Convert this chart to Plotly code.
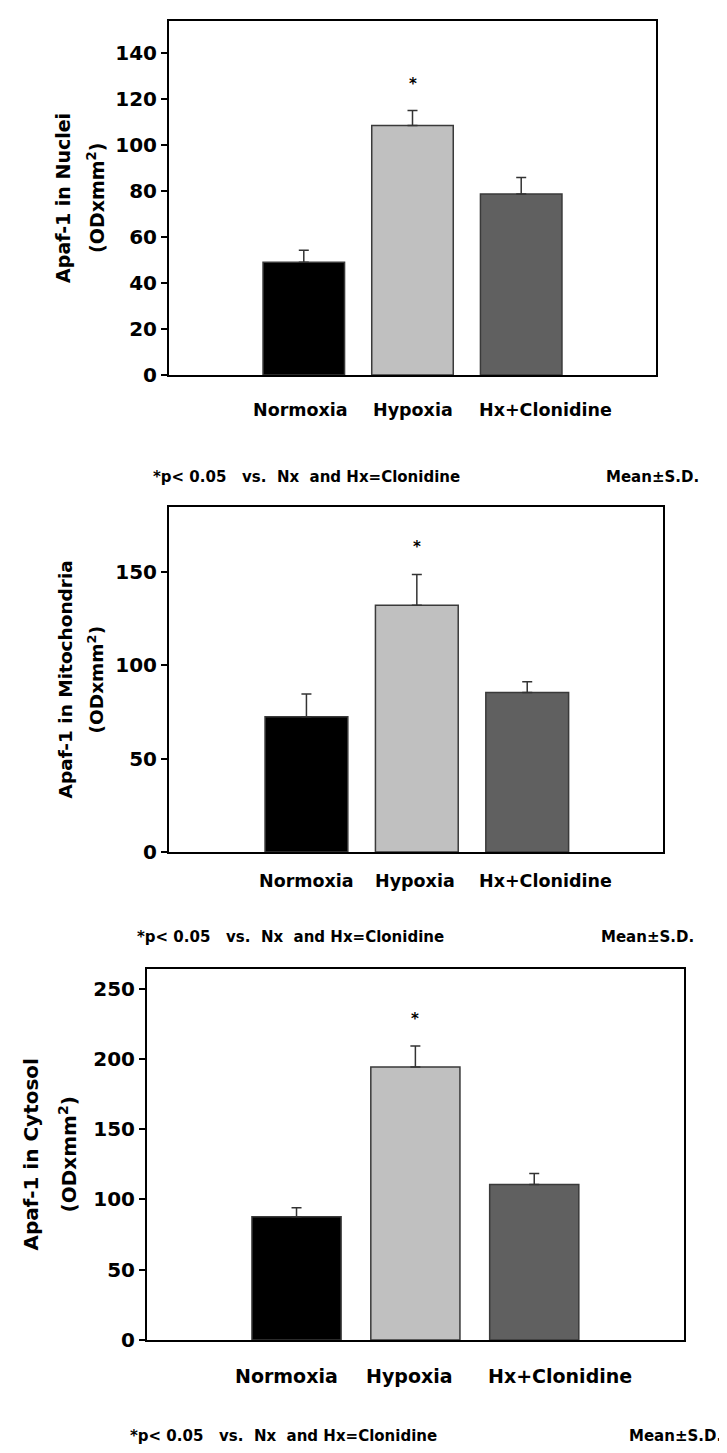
import plotly.graph_objects as go

categories = ["Normoxia", "Hypoxia", "Hx+Clonidine"]
bar_colors = ["#000000", "#c0c0c0", "#606060"]

nuclei_mean = [49, 108.5, 78.7]
nuclei_sd = [5.2, 6.5, 7.2]

mito_mean = [72.5, 132.3, 85.5]
mito_sd = [12.2, 16.5, 5.8]

cyto_mean = [87.6, 194.2, 110.6]
cyto_sd = [6.5, 15, 7.8]

panels = [
    dict(mean=nuclei_mean, sd=nuclei_sd, ymax=154, ticks=[0, 20, 40, 60, 80, 100, 120, 140],
         title1="Apaf-1 in Nuclei", title2="(ODxmm<sup>2</sup>)"),
    dict(mean=mito_mean, sd=mito_sd, ymax=185, ticks=[0, 50, 100, 150],
         title1="Apaf-1 in Mitochondria", title2="(ODxmm<sup>2</sup>)"),
    dict(mean=cyto_mean, sd=cyto_sd, ymax=264, ticks=[0, 50, 100, 150, 200, 250],
         title1="Apaf-1 in Cytosol", title2="(ODxmm<sup>2</sup>)"),
]

footnote_text = "*p<\u00a00.05\u00a0\u00a0\u00a0vs.\u00a0\u00a0Nx\u00a0\u00a0and\u00a0Hx=Clonidine"
mean_text = "Mean\u00b1S.D."

W, H = 727, 1453
# pixel geometry: (left, right, top, bottom)
geom = [
    (161, 648, 13, 370),
    (161, 655, 503, 851),
    (139, 676, 969, 1343),
]
xranges = [(-1.24, 3.24), (-1.245, 3.23), (-1.258, 3.26)]
label_shift = [[-3, 0, 24], [0, -2, 18], [-10, -6, 26]]
label_drop = [-23, -17, -23]
label_size = [17.5, 17.5, 19]
tick_size = [20, 20, 20]
title_size = [19, 18.5, 20]
title_x = [(55, 88), (57, 88), (23, 60)]
star_shift = [16, 16, 16]
foot = [(143, 693, 473), (127, 688, 937), (120, 716, 1440)]

FONT = "DejaVu Sans, Verdana, sans-serif"

fig = go.Figure()
annotations = []
for i, p in enumerate(panels):
    n = "" if i == 0 else str(i + 1)
    l, r, t, b = geom[i]
    fig.add_trace(go.Bar(
        x=list(range(len(categories))), y=p["mean"],
        marker=dict(color=bar_colors, line=dict(color="#3a3a3a", width=1.5)),
        width=0.75,
        error_y=dict(type="data", array=p["sd"], arrayminus=[0] * 3, symmetric=False,
                     color="#333333", thickness=1.5, width=5),
        xaxis="x" + n, yaxis="y" + n, showlegend=False, hoverinfo="skip",
    ))
    fig.layout["xaxis" + n] = dict(
        domain=[l / W, r / W], range=list(xranges[i]), anchor="y" + n,
        showticklabels=False, ticks="", showgrid=False, zeroline=False,
        showline=True, linecolor="black", linewidth=2, mirror=True,
    )
    fig.layout["yaxis" + n] = dict(
        domain=[1 - b / H, 1 - t / H], range=[0, p["ymax"]], anchor="x" + n,
        tickvals=p["ticks"], ticks="outside", ticklen=6, tickwidth=1.5, tickcolor="black",
        tickfont=dict(family=FONT, size=tick_size[i], color="black", weight="bold"),
        showgrid=False, zeroline=False,
        showline=True, linecolor="black", linewidth=2, mirror=True,
    )
    for j, c in enumerate(categories):
        annotations.append(dict(
            x=j, y=0, xref="x" + n, yref="y" + n, text="<b>%s</b>" % c,
            showarrow=False, yanchor="top", xanchor="center",
            xshift=label_shift[i][j], yshift=label_drop[i],
            font=dict(family=FONT, size=label_size[i], color="black"),
        ))
    # significance star above Hypoxia
    annotations.append(dict(
        x=1, y=p["mean"][1] + p["sd"][1], xref="x" + n, yref="y" + n, text="<b>*</b>",
        showarrow=False, yanchor="bottom", yshift=star_shift[i],
        font=dict(family=FONT, size=15, color="black"),
    ))
    # y-axis titles (two lines)
    cy = 1 - (t + b) / 2 / H
    annotations.append(dict(
        x=title_x[i][0] / W, y=cy, xref="paper", yref="paper", text="<b>%s</b>" % p["title1"],
        showarrow=False, textangle=-90, xanchor="center", yanchor="middle",
        font=dict(family=FONT, size=title_size[i], color="black"),
    ))
    annotations.append(dict(
        x=title_x[i][1] / W, y=cy, xref="paper", yref="paper", text="<b>%s</b>" % p["title2"],
        showarrow=False, textangle=-90, xanchor="center", yanchor="middle",
        font=dict(family=FONT, size=title_size[i], color="black"),
    ))
    fx0, fx1, fy = foot[i]
    annotations.append(dict(
        x=fx0 / W, y=1 - fy / H, xref="paper", yref="paper", text="<b>%s</b>" % footnote_text,
        showarrow=False, xanchor="left", yanchor="middle",
        font=dict(family=FONT, size=15, color="black"),
    ))
    annotations.append(dict(
        x=fx1 / W, y=1 - fy / H, xref="paper", yref="paper", text="<b>%s</b>" % mean_text,
        showarrow=False, xanchor="right", yanchor="middle",
        font=dict(family=FONT, size=15, color="black"),
    ))

fig.update_layout(
    width=W, height=H, margin=dict(l=0, r=0, t=0, b=0),
    paper_bgcolor="white", plot_bgcolor="white",
    annotations=annotations, bargap=0.25,
)
fig.write_html("out.html")
